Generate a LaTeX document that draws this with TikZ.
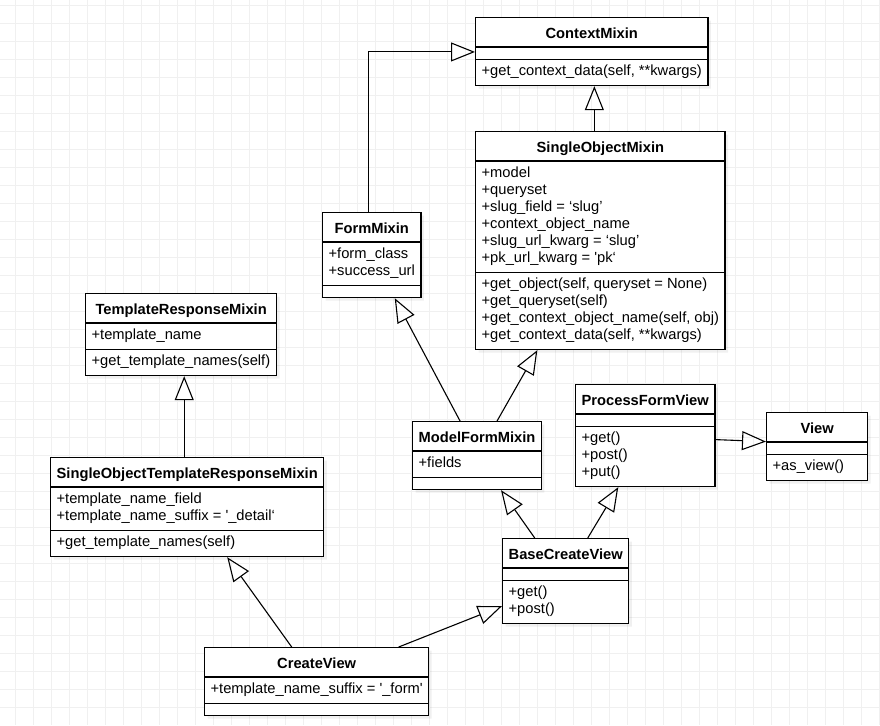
\documentclass[tikz,border=0pt]{standalone}
\usepackage{fontspec}
\setmainfont{Liberation Sans}
\usetikzlibrary{shapes.multipart, arrows.meta, shadows}

\tikzset{
  gridline/.style={color=black!6, line width=0.8pt},
  umlclass/.style={rectangle split, rectangle split parts=3, draw, line width=1.3pt,
    fill=white, anchor=north west, inner xsep=6pt, inner ysep=4pt,
    rectangle split part align={center,left,left}, align=left,
    font=\fontsize{14.7}{17}\selectfont,
    drop shadow={opacity=0.12, shadow xshift=3pt, shadow yshift=-3pt}},
  inherit/.style={line width=1.1pt, -{Triangle[open, length=24pt, width=19pt]}},
}
\newcommand{\cname}[1]{\rule[-4pt]{0pt}{20pt}\textbf{#1}}
\newcommand{\members}[1]{\strut#1\strut}
\newcommand{\nomembers}{\rule{0pt}{3pt}}

\begin{document}
\begin{tikzpicture}[x=1pt, y=-1pt]
   \useasboundingbox (0,0) rectangle (880,725);
   \foreach \gx in {15,33,...,879} \draw[gridline] (\gx,0) -- (\gx,725);
   \foreach \gy in {5,23,...,724} \draw[gridline] (0,\gy) -- (880,\gy);

   \node[umlclass, minimum width=231pt] (ctx) at (475,17) {\cname{ContextMixin}
      \nodepart{two}\nomembers
      \nodepart{three}\members{+get\_context\_data(self, **kwargs)}};
   \node[umlclass, minimum width=248pt] (som) at (475,131) {\cname{SingleObjectMixin}
      \nodepart{two}\members{+model\\+queryset\\+slug\_field = ‘slug’\\+context\_object\_name\\+slug\_url\_kwarg = ‘slug’\\+pk\_url\_kwarg = \textquotesingle pk‘}
      \nodepart{three}\members{+get\_object(self, queryset = None)\\+get\_queryset(self)\\+get\_context\_object\_name(self, obj)\\+get\_context\_data(self, **kwargs)}};
   \node[umlclass, minimum width=96pt] (fm) at (322,212) {\cname{FormMixin}
      \nodepart{two}\members{+form\_class\\+success\_url}
      \nodepart{three}\nomembers};
   \node[umlclass, minimum width=191pt] (trm) at (85,293) {\cname{TemplateResponseMixin}
      \nodepart{two}\members{+template\_name}
      \nodepart{three}\members{+get\_template\_names(self)}};
   \node[umlclass, minimum width=272pt] (sotrm) at (50,457) {\cname{SingleObjectTemplateResponseMixin}
      \nodepart{two}\members{+template\_name\_field\\+template\_name\_suffix = \textquotesingle\_detail‘}
      \nodepart{three}\members{+get\_template\_names(self)}};
   \node[umlclass, minimum width=127pt] (mfm) at (412,421) {\cname{ModelFormMixin}
      \nodepart{two}\members{+fields}
      \nodepart{three}\nomembers};
   \node[umlclass, minimum width=138pt] (pfv) at (575,384) {\cname{ProcessFormView}
      \nodepart{two}\nomembers
      \nodepart{three}\members{+get()\\+post()\\+put()}};
   \node[umlclass, minimum width=101pt] (view) at (766,412) {\cname{View}
      \nodepart{two}\nomembers
      \nodepart{three}\members{+as\_view()}};
   \node[umlclass, minimum width=125pt] (bcv) at (502,538) {\cname{BaseCreateView}
      \nodepart{two}\nomembers
      \nodepart{three}\members{+get()\\+post()}};
   \node[umlclass, minimum width=223pt] (cv) at (204,647) {\cname{CreateView}
      \nodepart{two}\members{+template\_name\_suffix = \textquotesingle\_form\textquotesingle}
      \nodepart{three}\nomembers};

   % generalisations
   \draw[inherit] ([xshift=-3pt]fm.north) |- ([yshift=-5pt]ctx.text split west);
   \draw[inherit] ([xshift=-6pt]som.north) -- ([xshift=-6pt]som.north |- ctx.south);
   \draw[inherit] ([xshift=-17pt]mfm.north) -- ([xshift=23pt]fm.south);
   \draw[inherit] ([xshift=20pt]mfm.north) -- ([xshift=-63pt]som.south);
   \draw[inherit] ([yshift=-4pt]pfv.east) -- ([yshift=5pt]view.west);
   \draw[inherit] ([xshift=-31pt]bcv.north) -- ([xshift=24pt]mfm.south);
   \draw[inherit] ([xshift=22pt]bcv.north) -- ([xshift=-27pt]pfv.south);
   \draw[inherit] ([xshift=-3pt]sotrm.north) -- ([xshift=-3pt]sotrm.north |- trm.south);
   \draw[inherit] ([xshift=-25pt]cv.north) -- ([xshift=40pt]sotrm.south);
   \draw[inherit] ([xshift=82pt]cv.north) -- ([yshift=-25pt]bcv.west);
\end{tikzpicture}
\end{document}
